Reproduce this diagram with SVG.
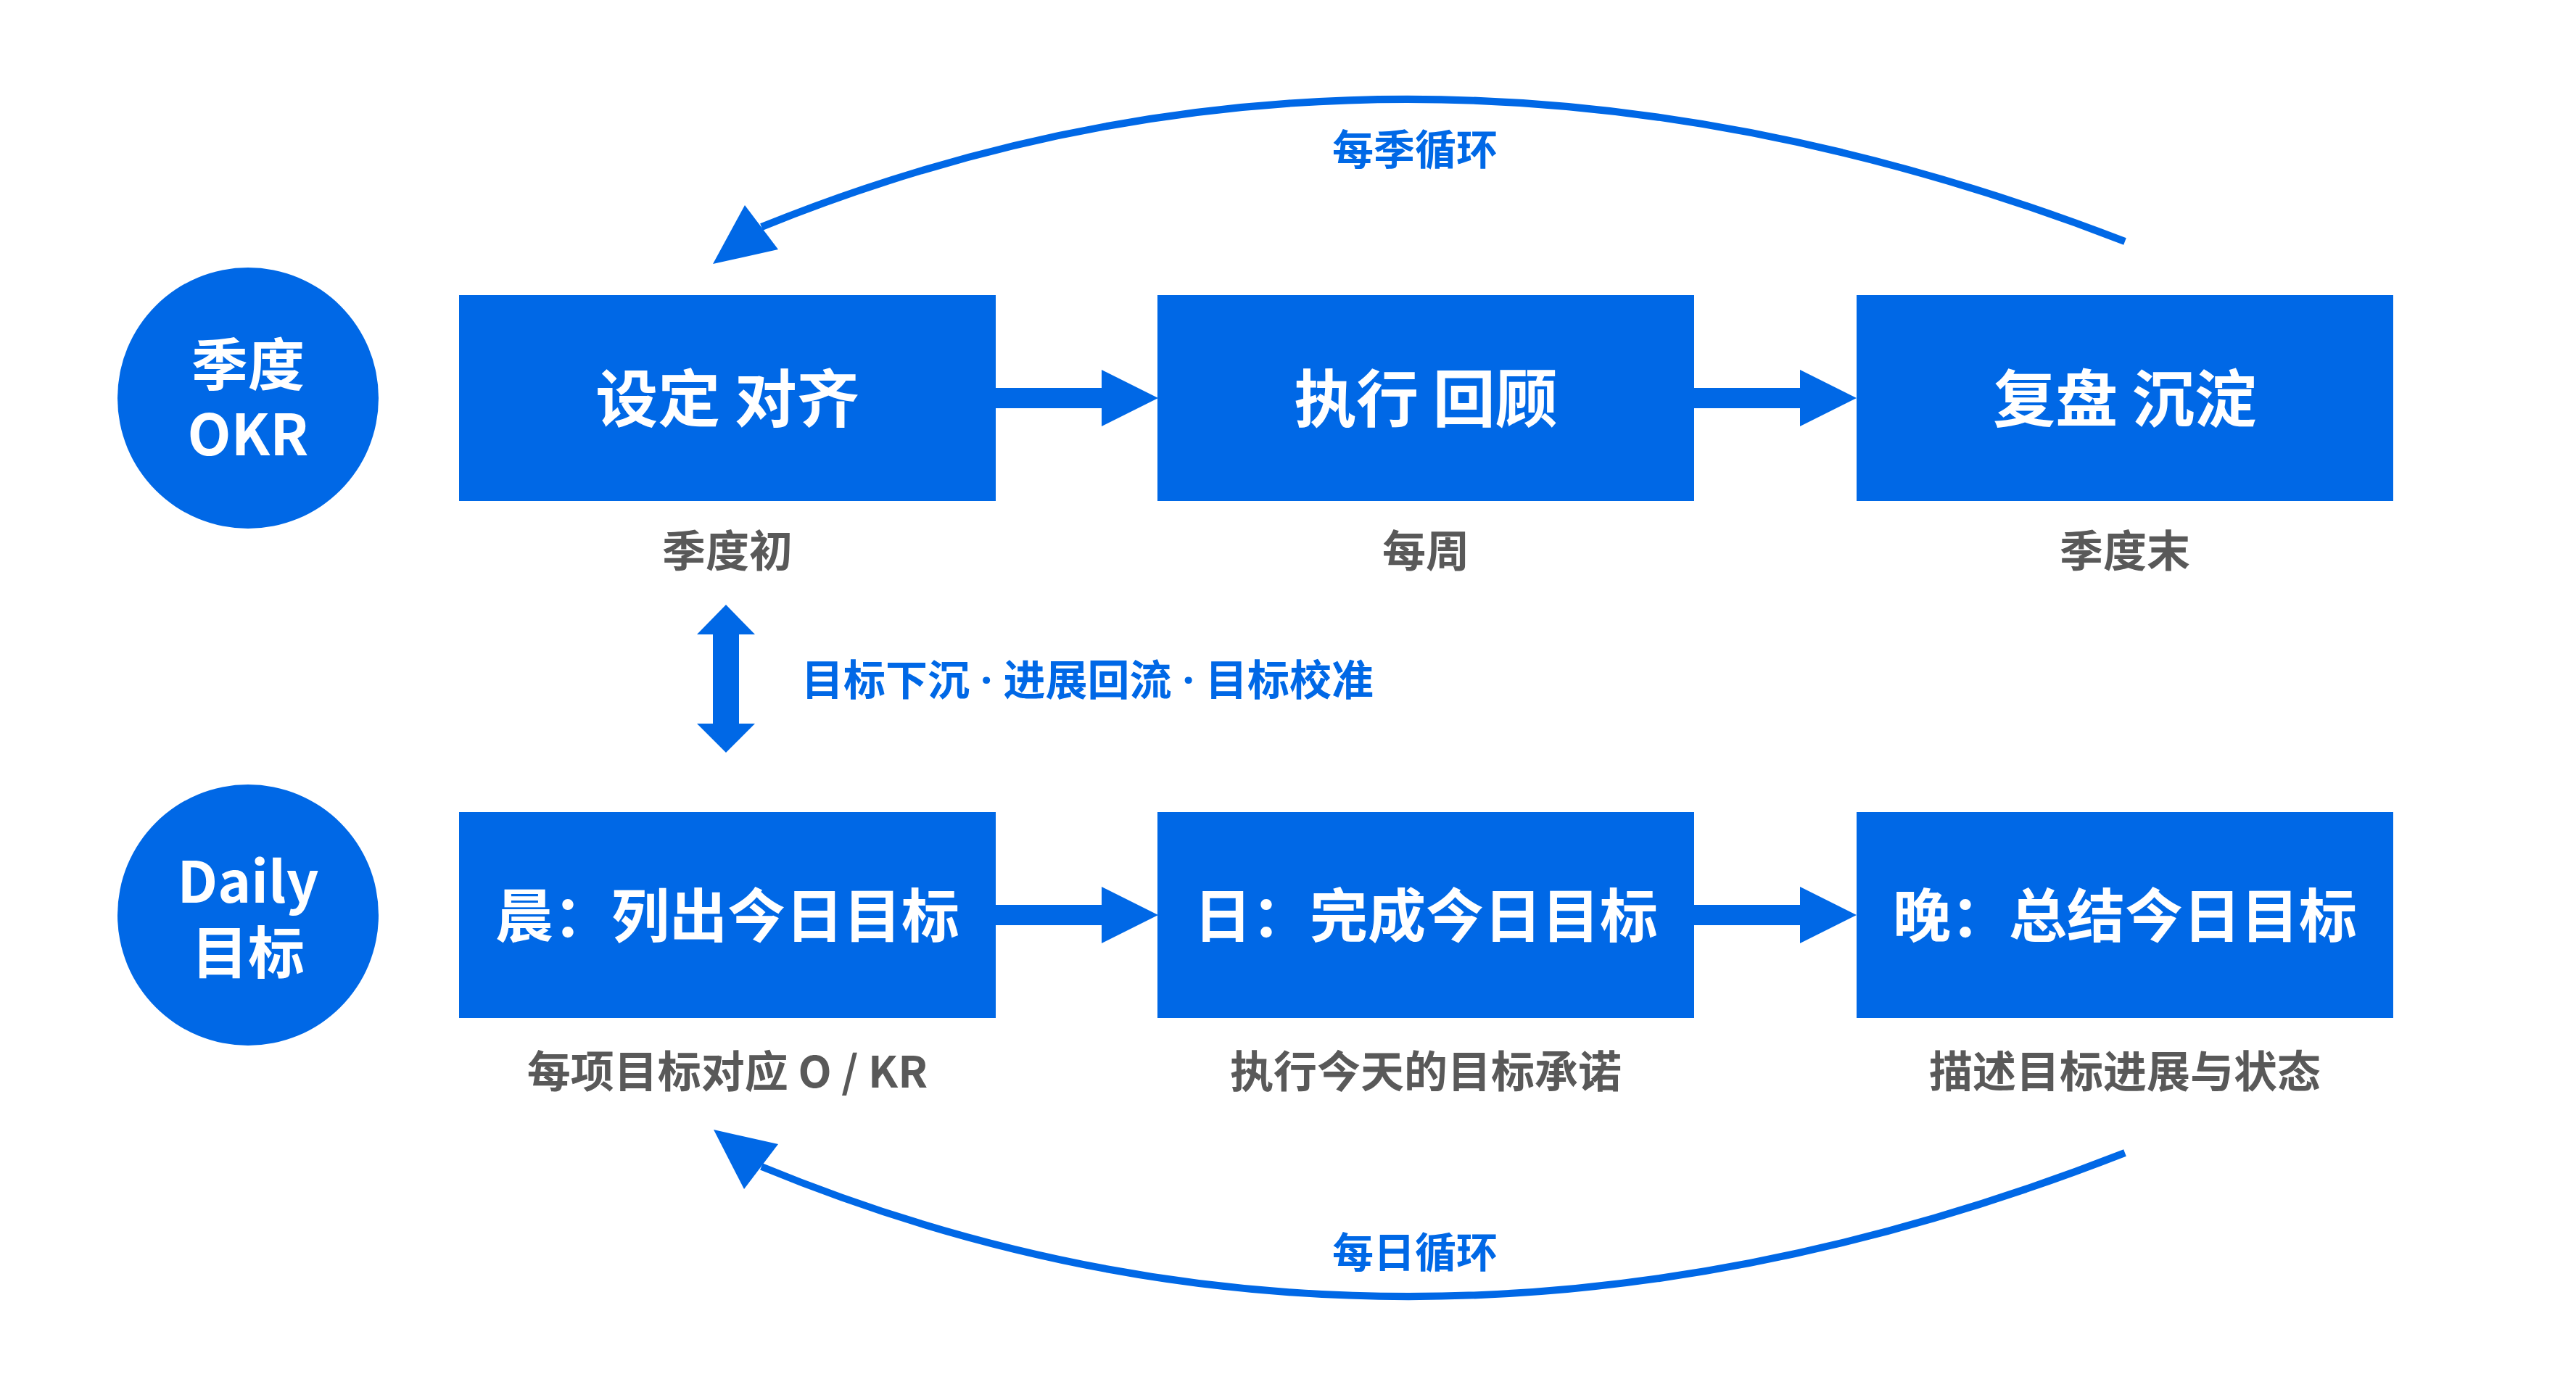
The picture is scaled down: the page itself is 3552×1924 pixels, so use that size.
<svg xmlns="http://www.w3.org/2000/svg" width="3552" height="1924" viewBox="0 0 3552 1924">
<style>
.fill{fill:#0068E6}
.t{font-family:"Noto Sans CJK SC","Noto Sans",sans-serif;font-weight:700;text-anchor:middle}
.dot{font-family:"Noto Sans",sans-serif}
.w{fill:#FFFFFF}
.g{fill:#595959}
.b{fill:#0068E6}
.ct{font-size:78px}
.bt1{font-size:86px}
.bt2{font-size:80px}
.sl{font-size:60px}
.al{font-size:57px}
.arc{fill:none;stroke:#0068E6;stroke-width:10}
</style>
<rect width="3552" height="1924" fill="#FFFFFF"/>
<g id="connectors">
  <polygon class="fill" points="1373,535 1519,535 1519,510 1597,549 1519,588 1519,563 1373,563"/>
  <polygon class="fill" points="2336,535 2482,535 2482,510 2560,549 2482,588 2482,563 2336,563"/>
  <polygon class="fill" points="1373,1248 1519,1248 1519,1223 1597,1262 1519,1301 1519,1276 1373,1276"/>
  <polygon class="fill" points="2336,1248 2482,1248 2482,1223 2560,1262 2482,1301 2482,1276 2336,1276"/>
  <polygon class="fill" points="1001,834 1041,875 1019,875 1019,998 1041,998 1001,1038 961,998 983,998 983,875 961,875"/>
  <text class="t b" x="1105" y="959" style="text-anchor:start;font-size:58px">目标下沉<tspan class="dot"> · </tspan>进展回流<tspan class="dot"> · </tspan>目标校准</text>
  <path class="arc" d="M2930,333 Q1942,-49 1050,313"/>
  <polygon class="fill" points="983,364 1027,283 1073,344"/>
  <text class="t b al" x="1951" y="227">每季循环</text>
  <path class="arc" d="M2930,1590 Q1942,1976.5 1050,1609"/>
  <polygon class="fill" points="984,1558 1073,1578 1026,1640"/>
  <text class="t b al" x="1951" y="1748">每日循环</text>
</g>
<g id="circle-okr">
  <circle class="fill" cx="342" cy="549" r="180"/>
  <text class="t w ct" x="342" y="532">季度</text>
  <text class="t w ct" x="342" y="628">OKR</text>
</g>
<g id="circle-daily">
  <circle class="fill" cx="342" cy="1262" r="180"/>
  <text class="t w ct" x="342" y="1245">Daily</text>
  <text class="t w ct" x="342" y="1343">目标</text>
</g>
<g id="box-set">
  <rect class="fill" x="633" y="407" width="740" height="284"/>
  <text class="t w bt1" x="1003" y="582">设定 对齐</text>
  <text class="t g sl" x="1003" y="782">季度初</text>
</g>
<g id="box-exec">
  <rect class="fill" x="1596" y="407" width="740" height="284"/>
  <text class="t w bt1" x="1966" y="582">执行 回顾</text>
  <text class="t g sl" x="1966" y="782">每周</text>
</g>
<g id="box-review">
  <rect class="fill" x="2560" y="407" width="740" height="284"/>
  <text class="t w bt1" x="2930" y="582">复盘 沉淀</text>
  <text class="t g sl" x="2930" y="782">季度末</text>
</g>
<g id="box-morning">
  <rect class="fill" x="633" y="1120" width="740" height="284"/>
  <text class="t w bt2" x="1003" y="1292">晨：列出今日目标</text>
  <text class="t g sl" x="1003" y="1500">每项目标对应 O / KR</text>
</g>
<g id="box-day">
  <rect class="fill" x="1596" y="1120" width="740" height="284"/>
  <text class="t w bt2" x="1966" y="1292">日：完成今日目标</text>
  <text class="t g sl" x="1966" y="1500">执行今天的目标承诺</text>
</g>
<g id="box-evening">
  <rect class="fill" x="2560" y="1120" width="740" height="284"/>
  <text class="t w bt2" x="2930" y="1292">晚：总结今日目标</text>
  <text class="t g sl" x="2930" y="1500">描述目标进展与状态</text>
</g>
</svg>
